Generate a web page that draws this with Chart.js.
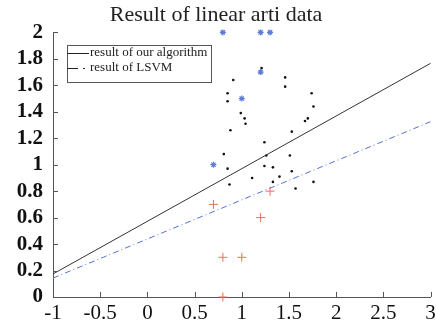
<!DOCTYPE html>
<html>
<head>
<meta charset="utf-8">
<script src="https://cdn.jsdelivr.net/npm/chart.js@4"></script>
<style>
  body { margin: 0; background: #fff; }
  #c { display: block; }
</style>
</head>
<body>
<canvas id="c" width="436" height="326"></canvas>
<script>
// separating lines, evaluated at both ends of the x range
const lineX = [-1, 3];
const ourY = [0.174, 1.766];
const lsvmY = [0.143, 1.325];

// blue stars
const starX = [0.8, 1.2, 1.3, 1.2, 1.0, 0.7];
const starY = [2.0, 2.0, 2.0, 1.7, 1.5, 1.0];

// red pluses
const plusX = [0.7, 1.3, 1.2, 0.8, 1.0, 0.8];
const plusY = [0.7, 0.8, 0.6, 0.3, 0.3, 0.0];

// black dots
const dotX = [0.91, 0.85, 0.85, 1.21, 1.46, 1.46, 1.74, 1.76, 0.99, 1.03, 1.70, 1.67,
              1.04, 0.88, 1.24, 1.53, 0.81, 1.26, 1.51, 0.85, 1.24, 1.33, 1.53, 1.11,
              1.40, 1.33, 1.76, 0.87, 1.57];
const dotY = [1.64, 1.54, 1.48, 1.73, 1.66, 1.59, 1.54, 1.44, 1.39, 1.35, 1.35, 1.33,
              1.31, 1.26, 1.17, 1.25, 1.08, 1.07, 1.07, 0.97, 0.99, 0.98, 0.95, 0.90,
              0.91, 0.87, 0.87, 0.85, 0.82];

const xTicks = [-1, -0.5, 0, 0.5, 1, 1.5, 2, 2.5, 3];
const yTicks = [0, 0.2, 0.4, 0.6, 0.8, 1, 1.2, 1.4, 1.6, 1.8, 2];

const pts = (xs, ys) => xs.map((x, i) => ({ x: x, y: ys[i] }));

// small inward tick marks on the left and bottom axes
const innerTicks = {
    id: 'innerTicks',
    afterDraw(chart) {
        const { ctx, chartArea, scales } = chart;
        ctx.save();
        ctx.strokeStyle = '#555';
        ctx.lineWidth = 1;
        ctx.beginPath();
        xTicks.forEach(v => {
            const px = Math.round(scales.x.getPixelForValue(v)) + 0.5;
            ctx.moveTo(px, chartArea.bottom);
            ctx.lineTo(px, chartArea.bottom - 5);
        });
        yTicks.forEach(v => {
            const py = Math.round(scales.y.getPixelForValue(v)) + 0.5;
            ctx.moveTo(chartArea.left, py);
            ctx.lineTo(chartArea.left + 5, py);
        });
        ctx.stroke();
        ctx.restore();
    }
};

// boxed legend in the upper left, like the original figure
const boxLegend = {
    id: 'boxLegend',
    afterDraw(chart) {
        const ctx = chart.ctx;
        const left = 67, top = 45, w = 144, h = 37;
        ctx.save();
        ctx.fillStyle = '#fff';
        ctx.fillRect(left, top, w, h);
        ctx.strokeStyle = '#555';
        ctx.lineWidth = 1;
        ctx.strokeRect(left + 0.5, top + 0.5, w, h);

        ctx.strokeStyle = '#222';
        ctx.beginPath();
        ctx.moveTo(left, 53.5);
        ctx.lineTo(left + 22, 53.5);
        ctx.stroke();

        ctx.beginPath();
        ctx.moveTo(left, 68.5);
        ctx.lineTo(left + 11, 68.5);
        ctx.moveTo(left + 16, 68.5);
        ctx.lineTo(left + 18, 68.5);
        ctx.stroke();

        ctx.fillStyle = '#222';
        ctx.font = '13px "Liberation Serif"';
        ctx.textBaseline = 'middle';
        ctx.fillText(chart.data.datasets[0].label, left + 23, 53);
        ctx.fillText(chart.data.datasets[1].label, left + 23, 68);
        ctx.restore();
    }
};

new Chart(document.getElementById('c'), {
    type: 'scatter',
    data: {
        datasets: [
            {
                type: 'line',
                label: 'result of our algorithm',
                data: pts(lineX, ourY),
                borderColor: '#333',
                borderWidth: 1,
                pointRadius: 0,
                fill: false
            },
            {
                type: 'line',
                label: 'result of LSVM',
                data: pts(lineX, lsvmY),
                borderColor: '#5a6fd2',
                borderWidth: 1,
                borderDash: [6, 3, 1, 3],
                pointRadius: 0,
                fill: false
            },
            {
                label: 'class 1',
                data: pts(starX, starY),
                pointStyle: 'star',
                pointRadius: 3,
                borderColor: '#5a7bd8',
                backgroundColor: '#5a7bd8',
                borderWidth: 1.2
            },
            {
                label: 'class 2',
                data: pts(plusX, plusY),
                pointStyle: 'cross',
                pointRadius: 4.5,
                borderColor: '#f36d55',
                borderWidth: 1
            },
            {
                label: 'samples',
                data: pts(dotX, dotY),
                pointStyle: 'circle',
                pointRadius: 1.3,
                borderWidth: 0,
                backgroundColor: '#111'
            }
        ]
    },
    options: {
        responsive: false,
        animation: false,
        clip: false,
        layout: { padding: { top: 0, right: 4, left: 0, bottom: 0 } },
        plugins: {
            legend: { display: false },
            tooltip: { enabled: false },
            title: {
                display: true,
                text: 'Result of linear arti data',
                color: '#222',
                font: { family: 'Liberation Serif', size: 22, weight: 'normal' },
                padding: { top: 2, bottom: 4 }
            }
        },
        scales: {
            x: {
                type: 'linear',
                min: -1,
                max: 3,
                afterBuildTicks: s => { s.ticks = xTicks.map(v => ({ value: v })); },
                afterFit: s => { s.height = 29; s.paddingLeft = 0; s.paddingRight = 0; },
                grid: { display: false, drawTicks: false },
                border: { display: true, color: '#555', width: 1 },
                ticks: {
                    color: '#111',
                    padding: 4,
                    maxRotation: 0,
                    autoSkip: false,
                    font: { family: 'Liberation Serif', size: 21 },
                    callback: v => String(parseFloat(v.toFixed(1)))
                }
            },
            y: {
                type: 'linear',
                min: 0,
                max: 2,
                afterBuildTicks: s => { s.ticks = yTicks.map(v => ({ value: v })); },
                afterFit: s => { s.width = 53; s.paddingTop = 0; s.paddingBottom = 0; },
                grid: { display: false, drawTicks: false },
                border: { display: true, color: '#555', width: 1 },
                ticks: {
                    color: '#111',
                    padding: 10,
                    autoSkip: false,
                    font: { family: 'Liberation Serif', size: 21, weight: 'bold' },
                    callback: v => String(parseFloat(v.toFixed(1)))
                }
            }
        }
    },
    plugins: [innerTicks, boxLegend]
});
</script>
</body>
</html>
